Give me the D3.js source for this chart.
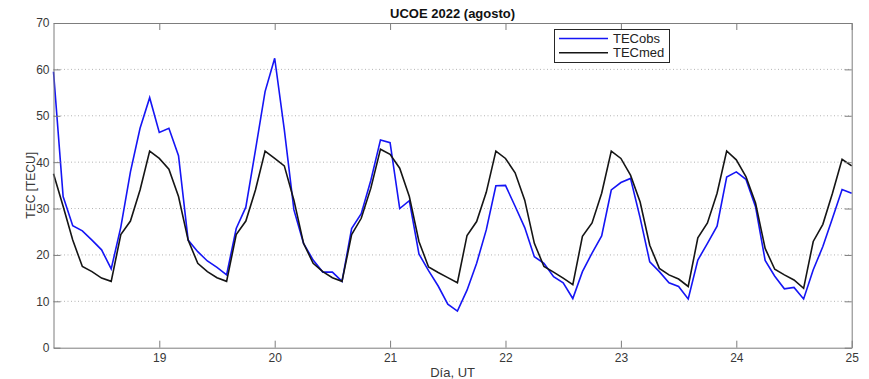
<!DOCTYPE html>
<html>
<head>
<meta charset="utf-8">
<script src="https://cdn.jsdelivr.net/npm/d3@7"></script>
<style>
  html, body { margin: 0; padding: 0; background: #fff; }
  svg { display: block; font-family: "Liberation Sans", Arial, Helvetica, sans-serif; }
</style>
</head>
<body>
<svg id="chart" width="869" height="379"></svg>
<script>
// Two-hourly TEC samples, starting 18 Aug 02 UT through 25 Aug 00 UT
const startDay = 18 + 2 / 24;
const stepDays = 2 / 24;

const tecObs = [
  59.5, 32.6, 26.3, 25.2, 23.2, 21.1, 17.0, 26.0, 37.9, 47.3, 53.9, 46.4,
  47.3, 41.4, 23.2, 20.7, 18.7, 17.3, 15.7, 25.7, 30.3, 42.6, 55.2, 62.4,
  47.0, 29.7, 22.5, 18.9, 16.3, 16.3, 14.3, 25.7, 28.9, 36.1, 44.8, 44.2,
  30.0, 31.7, 20.2, 16.6, 13.3, 9.4, 7.9, 12.4, 18.2, 25.4, 34.9, 35.0,
  30.5, 25.9, 19.6, 18.2, 15.3, 14.0, 10.6, 16.4, 20.4, 24.1, 34.0, 35.6,
  36.5, 28.0, 18.5, 16.4, 14.0, 13.2, 10.5, 18.9, 22.5, 26.2, 36.8, 37.9,
  36.3, 30.4, 18.8, 15.4, 12.7, 13.0, 10.5, 16.8, 21.8, 27.9, 34.1, 33.3
];

const tecMed = [
  37.5, 30.5, 23.2, 17.5, 16.4, 15.0, 14.3, 24.4, 27.3, 34.0, 42.4, 40.8,
  38.5, 32.6, 23.2, 18.2, 16.4, 15.1, 14.3, 24.4, 27.3, 34.0, 42.4, 40.8,
  39.2, 31.8, 22.5, 18.2, 16.4, 15.1, 14.3, 24.4, 27.9, 34.4, 42.8, 41.7,
  38.7, 32.6, 22.9, 17.4, 16.2, 15.1, 14.0, 24.2, 27.2, 33.5, 42.4, 40.8,
  37.7, 31.8, 22.5, 17.5, 16.3, 15.0, 13.6, 24.0, 26.9, 33.3, 42.4, 40.8,
  37.2, 31.4, 22.1, 17.1, 15.7, 14.8, 13.2, 23.7, 26.9, 33.3, 42.4, 40.5,
  36.9, 31.2, 21.4, 16.9, 15.7, 14.6, 12.8, 22.9, 26.6, 33.3, 40.6, 39.2
];

const xTicks = [19, 20, 21, 22, 23, 24, 25];
const yTicks = [0, 10, 20, 30, 40, 50, 60, 70];
const seriesNames = ["TECobs", "TECmed"];
const seriesColors = ["#1515f5", "#151515"];
const titleText = "UCOE 2022 (agosto)";
const xLabelText = "Día, UT";
const yLabelText = "TEC [TECU]";

const days = tecObs.map((_, i) => startDay + i * stepDays);

const svg = d3.select("#chart");
const plot = { left: 53.5, right: 851.7, top: 23, bottom: 347.7 };

const x = d3.scaleLinear().domain([startDay, 25]).range([plot.left, plot.right]);
const y = d3.scaleLinear().domain([0, 70]).range([plot.bottom, plot.top]);

const axisColor = "#7d7d7d";
const textColor = "#383838";

// horizontal dotted grid
svg.append("g")
  .selectAll("line")
  .data(yTicks.filter(v => v > 0 && v < 70))
  .join("line")
  .attr("x1", plot.left).attr("x2", plot.right)
  .attr("y1", d => y(d)).attr("y2", d => y(d))
  .attr("stroke", "#b4b4b4")
  .attr("stroke-width", 1)
  .attr("stroke-dasharray", "1,2.5");

// data lines
const line = d3.line().x((d, i) => x(days[i])).y(d => y(d));
const seriesData = [tecObs, tecMed];
svg.append("g")
  .selectAll("path")
  .data(seriesData)
  .join("path")
  .attr("d", d => line(d))
  .attr("fill", "none")
  .attr("stroke", (d, i) => seriesColors[i])
  .attr("stroke-width", 1.6)
  .attr("stroke-linejoin", "miter");

// axes (box with inward ticks)
const tickLen = 7;
const xAxisBottom = d3.axisBottom(x).tickValues(xTicks).tickSizeInner(-tickLen).tickSizeOuter(0).tickPadding(6).tickFormat(d3.format("d"));
const xAxisTop = d3.axisTop(x).tickValues(xTicks).tickSizeInner(-tickLen).tickSizeOuter(0).tickFormat("");
const yAxisLeft = d3.axisLeft(y).tickValues(yTicks).tickSizeInner(-tickLen).tickSizeOuter(0).tickPadding(4).tickFormat(d3.format("d"));
const yAxisRight = d3.axisRight(y).tickValues(yTicks).tickSizeInner(-tickLen).tickSizeOuter(0).tickFormat("");

function styleAxis(g) {
  g.select(".domain").attr("stroke", axisColor).attr("stroke-width", 1);
  g.selectAll(".tick line").attr("stroke", axisColor).attr("stroke-width", 1);
  g.selectAll(".tick text").attr("fill", textColor).attr("font-size", 12)
    .attr("font-family", "'Liberation Sans', Arial, sans-serif");
}

svg.append("g").attr("transform", `translate(0,${plot.bottom})`).call(xAxisBottom).call(styleAxis);
svg.append("g").attr("transform", `translate(0,${plot.top})`).call(xAxisTop).call(styleAxis);
svg.append("g").attr("transform", `translate(${plot.left},0)`).call(yAxisLeft).call(styleAxis);
svg.append("g").attr("transform", `translate(${plot.right},0)`).call(yAxisRight).call(styleAxis);

// title and axis labels
svg.append("text")
  .attr("x", (plot.left + plot.right) / 2).attr("y", 18)
  .attr("text-anchor", "middle")
  .attr("font-size", 13).attr("font-weight", "bold")
  .attr("fill", "#111")
  .text(titleText);

svg.append("text")
  .attr("x", (plot.left + plot.right) / 2).attr("y", 377)
  .attr("text-anchor", "middle")
  .attr("font-size", 13)
  .attr("fill", textColor)
  .text(xLabelText);

svg.append("text")
  .attr("transform", `translate(35,${(plot.top + plot.bottom) / 2}) rotate(-90)`)
  .attr("text-anchor", "middle")
  .attr("font-size", 12)
  .attr("fill", textColor)
  .text(yLabelText);

// legend
const legend = svg.append("g").attr("transform", "translate(554.5,29.5)");
legend.append("rect")
  .attr("width", 115).attr("height", 33)
  .attr("fill", "#fff").attr("stroke", "#262626").attr("stroke-width", 1);
const rows = legend.selectAll("g.row")
  .data(seriesNames)
  .join("g")
  .attr("class", "row")
  .attr("transform", (d, i) => `translate(0,${9 + i * 14.3})`);
rows.append("line")
  .attr("x1", 4.5).attr("x2", 53.5)
  .attr("stroke", (d, i) => seriesColors[i])
  .attr("stroke-width", 1.6);
rows.append("text")
  .attr("x", 58.5).attr("y", 4.6)
  .attr("font-size", 13)
  .attr("fill", "#222")
  .text(d => d);
</script>
</body>
</html>
